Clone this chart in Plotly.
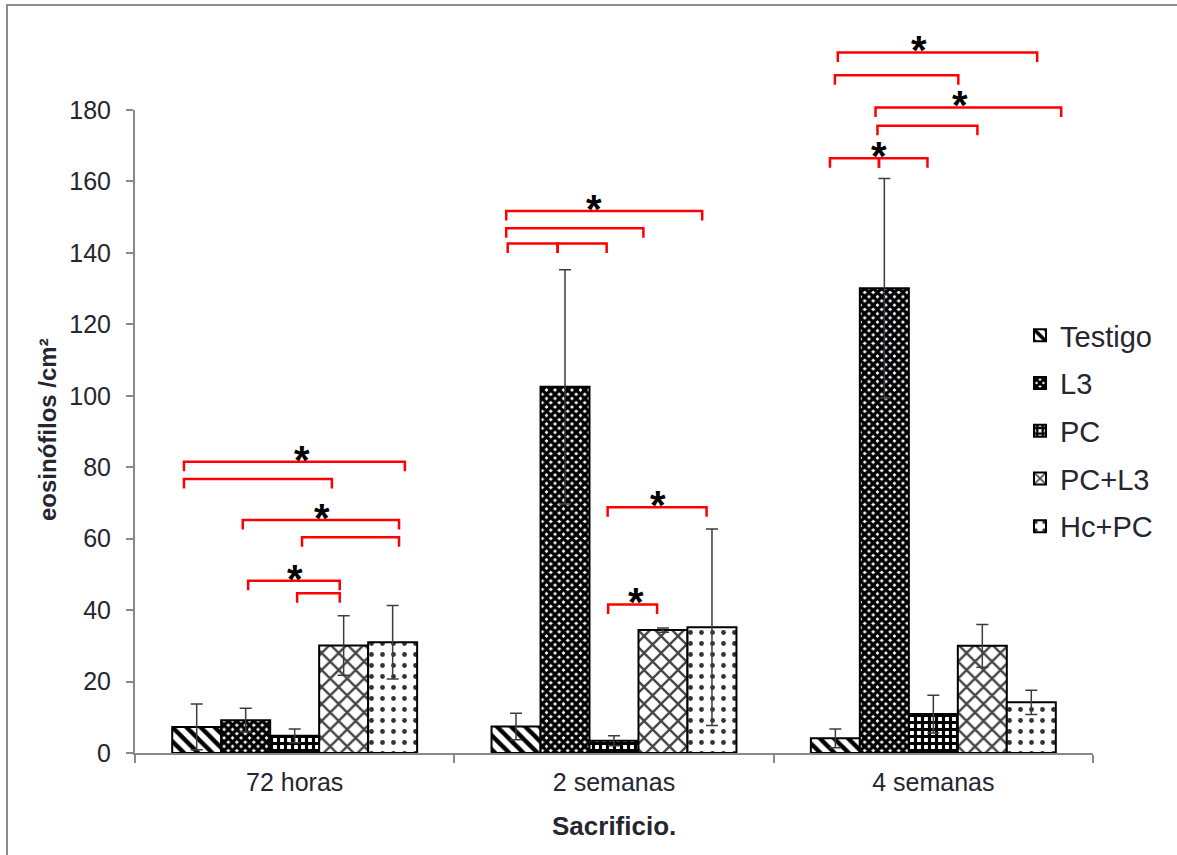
import plotly.graph_objects as go

# ---- data -------------------------------------------------------------
categories = ["72 horas", "2 semanas", "4 semanas"]
series_names = ["Testigo", "L3", "PC", "PC+L3", "Hc+PC"]

testigo = [7.3, 7.4, 4.1]
testigo_err = [6.4, 3.7, 2.6]
l3 = [9.2, 102.5, 130.1]
l3_err = [3.3, 32.8, 30.7]
pc = [4.8, 3.4, 10.9]
pc_err = [1.9, 1.4, 5.3]
pc_l3 = [30.1, 34.4, 30.0]
pc_l3_err = [8.3, 0.6, 6.0]
hc_pc = [31.0, 35.2, 14.2]
hc_pc_err = [10.3, 27.5, 3.4]

y_ticks = [0, 20, 40, 60, 80, 100, 120, 140, 160, 180]

# significance brackets: (category, from bar, to bar, level, star position or None)
# bar positions are in bar-slot units (0 = Testigo ... 4 = Hc+PC)
brackets = [
    (0, -0.26, 4.25, 81.5, 2.15),
    (0, -0.26, 2.76, 76.7, None),
    (0, 0.94, 4.13, 65.2, 2.55),
    (0, 2.15, 4.13, 60.4, None),
    (0, 1.05, 2.92, 48.2, 2.0),
    (0, 2.05, 2.92, 44.7, None),
    (1, -0.20, 3.80, 151.7, 1.6),
    (1, -0.20, 2.60, 146.9, None),
    (1, -0.17, 0.85, 142.6, None),
    (1, 0.85, 1.85, 142.6, None),
    (1, 1.87, 3.89, 68.8, 2.9),
    (1, 1.88, 2.88, 41.6, 2.45),
    (2, 0.05, 4.12, 196.1, 1.7),
    (2, -0.01, 2.51, 189.7, None),
    (2, 0.82, 4.61, 180.7, 2.55),
    (2, 0.86, 2.90, 175.6, None),
    (2, -0.11, 0.89, 166.5, 0.89),
    (2, 0.89, 1.88, 166.5, None),
]

# ---- styling ----------------------------------------------------------
FONT = "Liberation Sans, Arial, sans-serif"
TEXT_COLOR = "#262630"
AXIS_COLOR = "#898989"
ERR_COLOR = "#3c3c46"

patterns = [
    dict(shape="\\", bgcolor="white", fgcolor="black", size=10, solidity=0.45, fgopacity=1),
    dict(shape="x", bgcolor="white", fgcolor="black", size=6, solidity=0.8, fgopacity=1),
    dict(shape="+", bgcolor="white", fgcolor="black", size=7, solidity=0.7, fgopacity=1),
    dict(shape="x", bgcolor="white", fgcolor="#444444", size=12, solidity=0.35, fgopacity=1),
    dict(shape=".", bgcolor="white", fgcolor="#333333", size=11, solidity=0.15, fgopacity=1),
]

values = [testigo, l3, pc, pc_l3, hc_pc]
errors = [testigo_err, l3_err, pc_err, pc_l3_err, hc_pc_err]

BARGAP = 0.233
N_SERIES = len(series_names)
SLOT = (1 - BARGAP) / N_SERIES
Y_MAX = 180

fig = go.Figure()
for i, name in enumerate(series_names):
    fig.add_trace(go.Bar(
        name=name,
        x=categories,
        y=values[i],
        legendgroup=name,
        marker=dict(color="white", line=dict(color="black", width=2), pattern=patterns[i]),
        error_y=dict(type="data", array=errors[i], visible=True,
                     color=ERR_COLOR, thickness=1.5, width=6),
    ))


def to_paper_x(cat, slot):
    x = cat + (slot - (N_SERIES - 1) / 2) * SLOT
    return (x + 0.5) / len(categories)


def to_paper_y(v):
    return v / Y_MAX


LEG = 9.5 / 643  # bracket leg length in paper units
shapes = []
annotations = []
for cat, s0, s1, level, star in brackets:
    x0 = to_paper_x(cat, s0)
    x1 = to_paper_x(cat, s1)
    yt = to_paper_y(level)
    yb = yt - LEG
    shapes.append(dict(
        type="path", xref="paper", yref="paper",
        path=f"M {x0},{yb} L {x0},{yt} L {x1},{yt} L {x1},{yb}",
        line=dict(color="#ff0000", width=2.5),
    ))
    if star is not None:
        annotations.append(dict(
            x=to_paper_x(cat, star), y=yt, xref="paper", yref="paper",
            text="<b>*</b>", showarrow=False, xanchor="center", yanchor="middle",
            yshift=2, font=dict(family=FONT, size=40, color="black"),
        ))

# frame around the figure
shapes.append(dict(
    type="rect", xref="paper", yref="paper",
    x0=(7 - 135) / 958, x1=(1190 - 135) / 958,
    y0=(753 - 870) / 643, y1=(753 - 5) / 643,
    line=dict(color="#8c8c8c", width=2), fillcolor="rgba(0,0,0,0)", layer="below",
))

annotations.append(dict(
    x=0.5, y=(753 - 826) / 643, xref="paper", yref="paper",
    text="<b>Sacrificio.</b>", showarrow=False, xanchor="center", yanchor="middle",
    font=dict(family=FONT, size=26, color=TEXT_COLOR),
))
annotations.append(dict(
    x=(47 - 135) / 958, y=(753 - 430) / 643, xref="paper", yref="paper",
    text="<b>eosinófilos /cm²</b>", showarrow=False, textangle=-90,
    xanchor="center", yanchor="middle",
    font=dict(family=FONT, size=24, color=TEXT_COLOR),
))

fig.update_layout(
    width=1177, height=855,
    margin=dict(l=135, r=84, t=110, b=102),
    paper_bgcolor="white", plot_bgcolor="white",
    barmode="group", bargap=BARGAP, bargroupgap=0,
    font=dict(family=FONT, color=TEXT_COLOR),
    showlegend=True,
    legend=dict(
        x=(1020 - 135) / 958, xanchor="left",
        y=(753 - 310) / 643, yanchor="top",
        font=dict(family=FONT, size=29, color=TEXT_COLOR),
        tracegroupgap=7, bgcolor="rgba(0,0,0,0)",
    ),
    shapes=shapes,
    annotations=annotations,
)

fig.update_xaxes(
    range=[-0.5, 2.5], showline=True, linecolor=AXIS_COLOR, linewidth=2,
    ticks="outside", tickson="boundaries", ticklen=8, tickcolor=AXIS_COLOR, tickwidth=1.5,
    tickfont=dict(family=FONT, size=25, color=TEXT_COLOR), showgrid=False,
    ticklabelstandoff=6,
)
fig.update_yaxes(
    range=[0, Y_MAX], tickvals=y_ticks, showline=True, linecolor=AXIS_COLOR, linewidth=2,
    ticks="outside", ticklen=7, tickcolor=AXIS_COLOR, tickwidth=1.5,
    tickfont=dict(family=FONT, size=25, color=TEXT_COLOR),
    showgrid=True, gridcolor="white", griddash="dash", gridwidth=1,
    layer="above traces", zeroline=False, ticklabelstandoff=10,
)

fig.write_html("out.html")
